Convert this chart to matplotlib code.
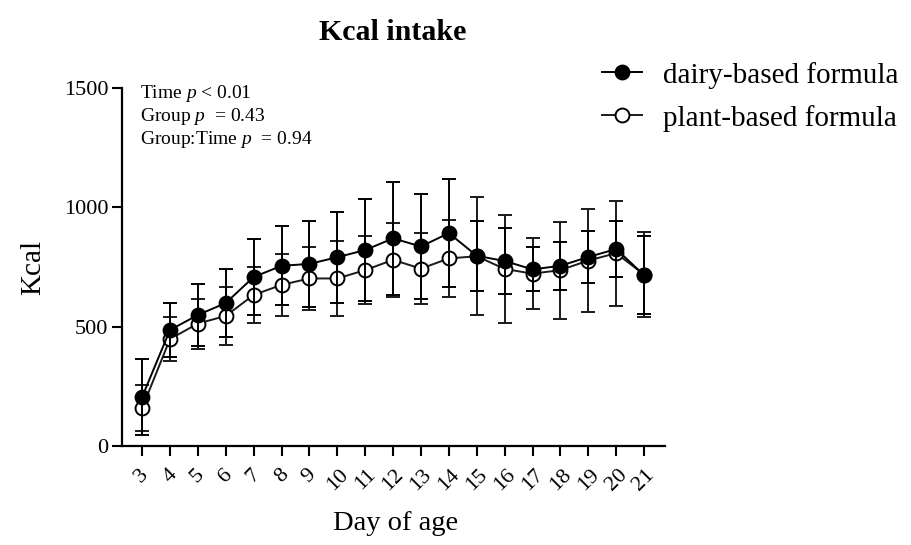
import matplotlib
matplotlib.use("Agg")
import matplotlib.pyplot as plt

# Data (mean and SD per day)
days = [3, 4, 5, 6, 7, 8, 9, 10, 11, 12, 13, 14, 15, 16, 17, 18, 19, 20, 21]
dairy_mean = [205, 486, 549, 599, 708, 755, 763, 791, 821, 870, 836, 892, 797, 775, 740, 755, 792, 825, 716]
dairy_sd = [160, 113, 130, 142, 159, 166, 180, 190, 215, 237, 221, 227, 146, 138, 92, 101, 107, 118, 163]
plant_mean = [158, 448, 513, 545, 633, 675, 702, 702, 737, 780, 743, 786, 795, 742, 722, 737, 777, 808, 718]
plant_sd = [97, 92, 105, 122, 118, 130, 132, 157, 143, 155, 150, 163, 247, 226, 149, 203, 215, 220, 178]

y_ticks = [0, 500, 1000, 1500]
stats_lines = ["Time $p$ < 0.01", "Group $p$  = 0.43", "Group:Time $p$  = 0.94"]

plt.rcParams['font.family'] = ['Liberation Serif', 'DejaVu Serif']
plt.rcParams['mathtext.fontset'] = 'custom'
plt.rcParams['mathtext.rm'] = 'Liberation Serif'
plt.rcParams['mathtext.it'] = 'Liberation Serif:italic'

W, H = 912, 545
fig = plt.figure(figsize=(W / 100, H / 100), dpi=100)
ax = fig.add_axes([122 / W, 1 - 446 / H, (665 - 122) / W, (446 - 88) / H])

ax.errorbar(days, plant_mean, yerr=plant_sd, fmt='-o', color='#1a1a1a',
            markerfacecolor='white', markeredgecolor='black', markersize=10,
            markeredgewidth=1.4, linewidth=1.4, elinewidth=1.4, capsize=5,
            capthick=1.4, zorder=2, label='plant-based formula')
ax.errorbar(days, dairy_mean, yerr=dairy_sd, fmt='-o', color='black',
            markerfacecolor='black', markeredgecolor='black', markersize=10,
            markeredgewidth=1.4, linewidth=1.4, elinewidth=1.4, capsize=5,
            capthick=1.4, zorder=3, label='dairy-based formula')

ax.set_xlim(2.28, 21.75)
ax.set_ylim(0, 1500)
ax.set_yticks(y_ticks)
ax.set_xticks(days)
ax.set_xticklabels([str(d) for d in days], rotation=45, ha='center')

for s in ['top', 'right']:
    ax.spines[s].set_visible(False)
for s in ['left', 'bottom']:
    ax.spines[s].set_linewidth(1.6)
ax.tick_params(axis='both', direction='out', length=7, width=1.5, labelsize=16)
ax.tick_params(axis='x', pad=7)
ax.tick_params(axis='y', pad=3)

ax.set_ylabel('Kcal', fontsize=21)
ax.yaxis.set_label_coords(-0.14, 0.5)
fig.text(396 / W, 1 - 523 / H, 'Day of age', fontsize=20.5, ha='center', va='center')
fig.text(393 / W, 1 - 33 / H, 'Kcal intake', fontsize=21.5, fontweight='bold',
         ha='center', va='center')

for i, line in enumerate(stats_lines):
    fig.text(140 / W, 1 - (93 + i * 23.5) / H, line, fontsize=14, ha='left', va='center')

handles, labels = ax.get_legend_handles_labels()
handles = [h[0] for h in handles[::-1]]
leg = fig.legend(handles, labels[::-1], loc='upper left', bbox_to_anchor=(590 / W, 1 - 50 / H),
                 frameon=False, fontsize=21, handlelength=1.4, handletextpad=0.7,
                 labelspacing=0.55, borderaxespad=0)

fig.savefig('out.png', dpi=100)
